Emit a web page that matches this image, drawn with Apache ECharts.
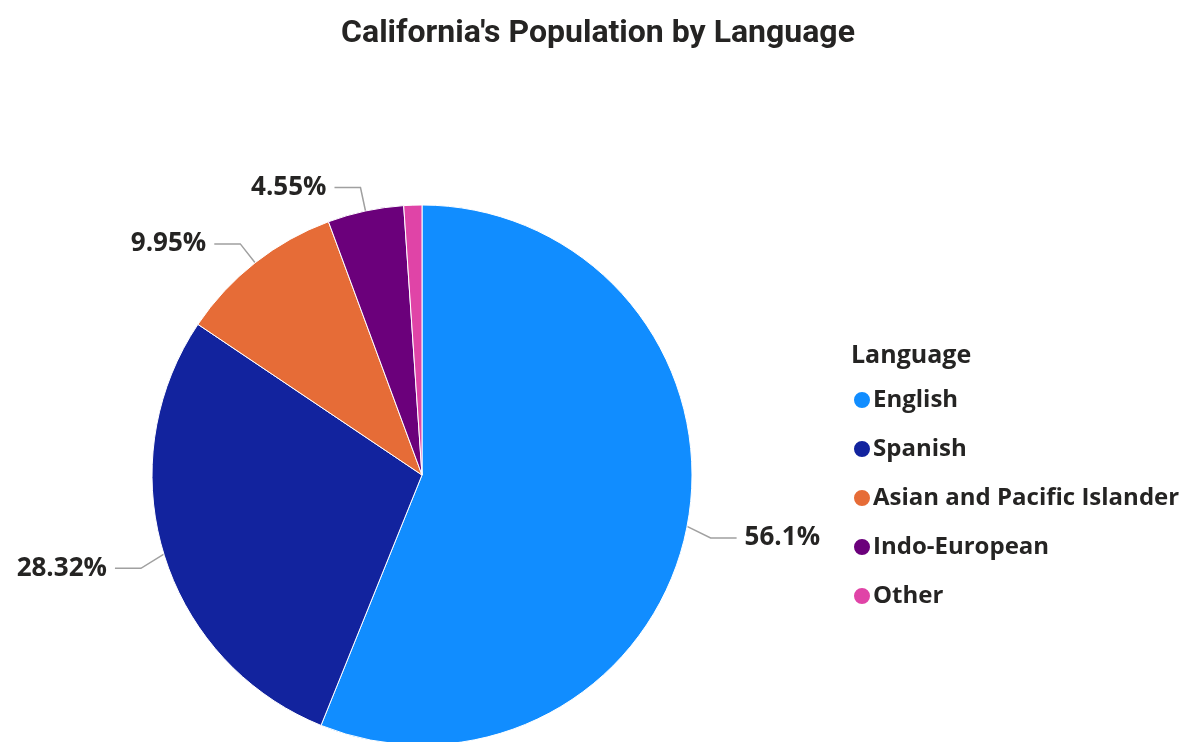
<!DOCTYPE html>
<html>
<head>
<meta charset="utf-8">
<style>
  html, body { margin: 0; padding: 0; background: #fff; }
  #chart { width: 1196px; height: 742px; }
</style>
<script src="https://cdn.jsdelivr.net/npm/echarts@6/dist/echarts.min.js"></script>
</head>
<body>
<div id="chart"></div>
<script>
// Share of California residents by language spoken at home (%)
const languages = ['English', 'Spanish', 'Asian and Pacific Islander', 'Indo-European', 'Other'];
const shares = [56.1, 28.32, 9.95, 4.55, 1.08];
const sliceColors = ['#118DFF', '#12239E', '#E66C37', '#6B007B', '#E044A7'];
// Slices too thin to carry a label
const hiddenLabels = ['Other'];

const chart = echarts.init(document.getElementById('chart'));

const pieData = languages.map((name, i) => ({
  name,
  value: shares[i],
  itemStyle: { color: sliceColors[i] },
  label: { show: !hiddenLabels.includes(name) },
  labelLine: { show: !hiddenLabels.includes(name) }
}));

// Drop the side labels a few pixels, bending their leader lines with them
const SIDE_DROP = 7;
function layoutLabel(p) {
  if (p.dataIndex > 1 || !p.labelLinePoints) return {};
  const pts = p.labelLinePoints.map(pt => [pt[0], pt[1]]);
  pts[1][1] += SIDE_DROP;
  pts[2][1] += SIDE_DROP;
  return { dy: SIDE_DROP, labelLinePoints: pts };
}

chart.setOption({
  animation: false,
  title: [
    {
      text: "California's Population by Language",
      left: 'center',
      top: 13,
      textStyle: {
        fontFamily: 'Roboto',
        fontWeight: 'bold',
        fontSize: 32,
        color: '#252423'
      }
    },
    {
      text: 'Language',
      left: 846,
      top: 338,
      textStyle: {
        fontFamily: 'Open Sans',
        fontWeight: 'bold',
        fontSize: 25,
        color: '#252423'
      }
    }
  ],
  legend: {
    orient: 'vertical',
    left: 847,
    top: 383,
    icon: 'circle',
    itemWidth: 18,
    itemHeight: 18,
    itemGap: 25,
    data: languages,
    textStyle: {
      fontFamily: 'Open Sans',
      fontWeight: 'bold',
      fontSize: 24,
      color: '#252423',
      padding: [0, 0, 0, -3]
    }
  },
  series: [
    {
      type: 'pie',
      center: [422, 475],
      radius: [0, 270],
      startAngle: 90,
      clockwise: true,
      avoidLabelOverlap: false,
      itemStyle: { borderColor: '#ffffff', borderWidth: 1 },
      label: {
        position: 'outside',
        formatter: p => p.value + '%',
        fontFamily: 'Open Sans',
        fontWeight: 'bold',
        fontSize: 26,
        color: '#252423',
        distanceToLabelLine: 8
      },
      labelLine: {
        length: 24,
        length2: 26,
        lineStyle: { color: '#a0a0a0', width: 1.5 }
      },
      labelLayout: layoutLabel,
      emphasis: { disabled: true },
      data: pieData
    }
  ]
});
</script>
</body>
</html>
